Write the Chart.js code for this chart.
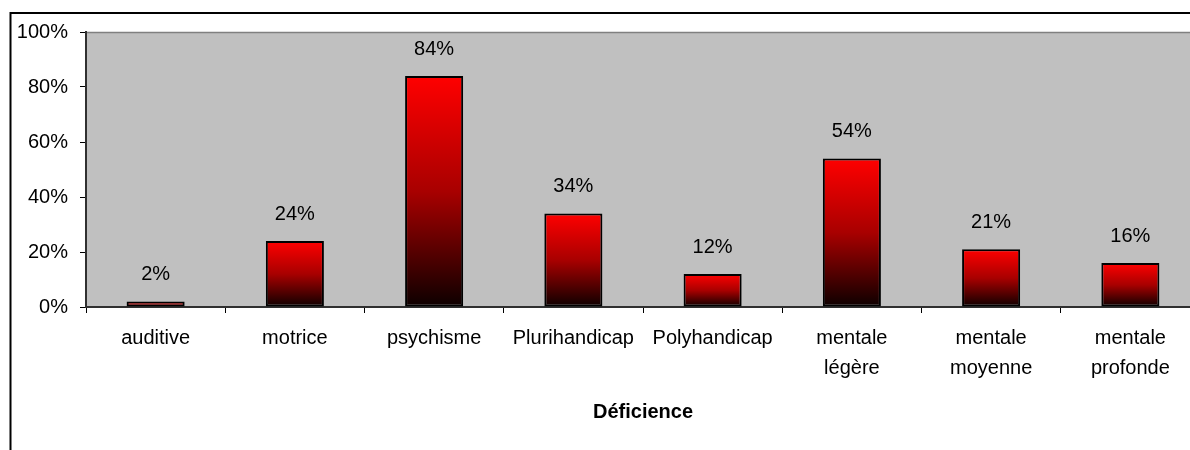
<!DOCTYPE html>
<html>
<head>
<meta charset="utf-8">
<script src="https://cdn.jsdelivr.net/npm/chart.js@4/dist/chart.umd.min.js"></script>
<style>
	html, body { margin: 0; padding: 0; background: #fff; }
	#hook { width: 1190px; height: 450px; overflow: hidden; position: relative; }
	#hook canvas { position: absolute; left: 0; top: 0; }
</style>
</head>
<body>
<div id="hook"><canvas id="bars" width="1230" height="450"></canvas></div>
<script>
const CATEGORIES = ['auditive', 'motrice', 'psychisme', 'Plurihandicap', 'Polyhandicap',
	['mentale', 'légère'], ['mentale', 'moyenne'], ['mentale', 'profonde']];
const VALUES = [2, 24, 84, 34, 12, 54, 21, 16];
const Y_TICKS = [0, 20, 40, 60, 80, 100];
const AXIS_TITLE = 'Déficience';

Chart.defaults.font.family = '"Liberation Sans", Arial, sans-serif';
Chart.defaults.font.size = 20;
Chart.defaults.color = '#000';

//red on top fading to near black at the base of each bar
const barGradient = (ctx) => {
	let chart = ctx.chart;
	let y = chart.scales.y;
	if(!chart.chartArea || !y) return '#ff0000';
	let top = y.getPixelForValue(ctx.raw);
	let base = y.getPixelForValue(0);
	if(!isFinite(top) || top === base) return '#ff0000';
	let g = chart.ctx.createLinearGradient(0, top, 0, base);
	g.addColorStop(0, '#ff0000');
	g.addColorStop(0.5, '#a80000');
	g.addColorStop(1, '#0c0000');
	return g;
};

//outer frame + grey plot area
const background = {
	id: 'background',
	beforeDraw(chart) {
		let {ctx, chartArea: a} = chart;
		ctx.save();
		ctx.fillStyle = '#fff';
		ctx.fillRect(0, 0, chart.width, chart.height);
		ctx.strokeStyle = '#000';
		ctx.lineWidth = 2;
		ctx.strokeRect(10.5, 13, 2000, 2000);
		ctx.fillStyle = '#c0c0c0';
		ctx.fillRect(a.left, a.top, a.right - a.left, a.bottom - a.top);
		ctx.strokeStyle = '#808080';
		ctx.lineWidth = 1.5;
		ctx.beginPath();
		ctx.moveTo(a.left, a.top + 0.5);
		ctx.lineTo(a.right, a.top + 0.5);
		ctx.stroke();
		ctx.restore();
	}
};

//percent labels above the bars
const valueLabels = {
	id: 'valueLabels',
	afterDatasetsDraw(chart) {
		let ctx = chart.ctx;
		let meta = chart.getDatasetMeta(0);
		ctx.save();
		ctx.font = '20px "Liberation Sans", Arial, sans-serif';
		ctx.fillStyle = '#000';
		ctx.textAlign = 'center';
		ctx.textBaseline = 'middle';
		meta.data.forEach((bar, i) => ctx.fillText(VALUES[i] + '%', bar.x, bar.y - 27));
		ctx.restore();
	}
};

let ctx = document.querySelector('#bars').getContext('2d');

let chart = new Chart(ctx, {
	type: 'bar',
	plugins: [background, valueLabels],
	data: {
		labels: CATEGORIES,
		datasets: [{
			data: VALUES,
			backgroundColor: barGradient,
			borderColor: '#000',
			borderWidth: 2,
			borderSkipped: false,
			categoryPercentage: 1,
			barPercentage: 0.417
		}]
	},
	options: {
		responsive: false,
		animation: false,
		layout: {padding: {left: 0, top: 32, right: 30, bottom: 20}},
		plugins: {
			legend: {display: false},
			tooltip: {enabled: false}
		},
		scales: {
			x: {
				grid: {drawOnChartArea: false, tickLength: 6, tickColor: '#000'},
				border: {color: '#303030', width: 2},
				ticks: {padding: 10, maxRotation: 0, font: {size: 20, lineHeight: 1.5}},
				title: {
					display: true,
					text: AXIS_TITLE,
					font: {size: 20, weight: 'bold'},
					padding: {top: 7, bottom: 6}
				}
			},
			y: {
				min: 0,
				max: 100,
				afterFit: (scale) => { scale.width = 86; },
				afterBuildTicks: (scale) => { scale.ticks = Y_TICKS.map(v => ({value: v})); },
				grid: {drawOnChartArea: false, tickLength: 6, tickColor: '#000'},
				border: {color: '#303030', width: 2},
				ticks: {padding: 12, callback: v => v + '%'}
			}
		}
	}
});
</script>
</body>
</html>
